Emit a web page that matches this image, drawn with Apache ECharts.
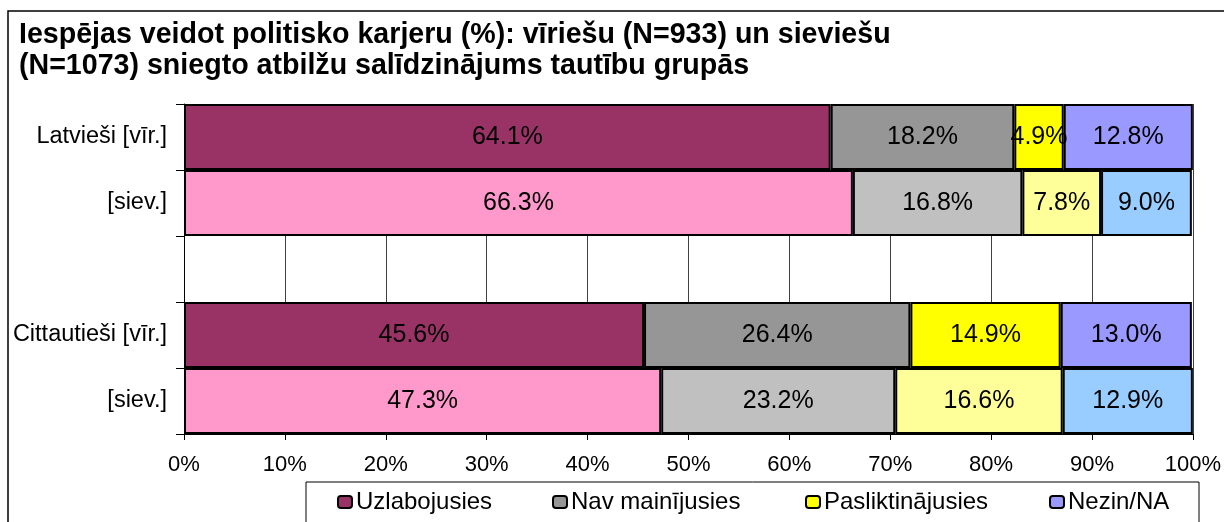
<!DOCTYPE html>
<html>
<head>
<meta charset="utf-8">
<script src="https://cdn.jsdelivr.net/npm/echarts@6/dist/echarts.min.js"></script>
<style>
  html, body { margin: 0; padding: 0; background: #fff; }
  #chart { width: 1224px; height: 522px; }
</style>
</head>
<body>
<div id="chart"></div>
<script>
// categories (top to bottom), the empty slot is the gap between the two groups
var categories = ['Latvieši [vīr.]', '[siev.]', '', 'Cittautieši [vīr.]', '[siev.]'];
var seriesNames = ['Uzlabojusies', 'Nav mainījusies', 'Pasliktinājusies', 'Nezin/NA'];

// values in %
var improved  = [64.1, 66.3, '-', 45.6, 47.3];
var unchanged = [18.2, 16.8, '-', 26.4, 23.2];
var worse     = [4.9, 7.8, '-', 14.9, 16.6];
var unknown   = [12.8, 9.0, '-', 13.0, 12.9];

var xTicks = [0, 10, 20, 30, 40, 50, 60, 70, 80, 90, 100];

// men rows use the dark colours, women rows the light ones
var menColors   = ['#993366', '#969696', '#FFFF00', '#9999FF'];
var womenColors = ['#FF99CC', '#C0C0C0', '#FFFF99', '#99CCFF'];
var womenRows = [1, 4];

var font = 'Arial, "Liberation Sans", sans-serif';

function makeSeries(idx, values) {
    var data = values.map(function (v, i) {
        if (womenRows.indexOf(i) >= 0) {
            return { value: v, itemStyle: { color: womenColors[idx] } };
        }
        return v;
    });
    return {
        name: seriesNames[idx],
        type: 'bar',
        stack: 'total',
        barCategoryGap: 0,
        data: data,
        itemStyle: { color: menColors[idx], borderColor: '#000', borderWidth: 2 },
        label: {
            show: true,
            position: 'inside',
            color: '#000',
            fontFamily: font,
            fontSize: 25,
            formatter: function (p) { return p.value.toFixed(1) + '%'; }
        },
        emphasis: { disabled: true }
    };
}

// one legend per entry so each sits where it does in the picture
var legendLefts = [337, 552, 805, 1049];
var legends = seriesNames.map(function (name, i) {
    return {
        data: [name],
        left: legendLefts[i],
        top: 490,
        itemWidth: 14,
        itemHeight: 12,
        itemGap: 0,
        padding: 0,
        textStyle: { fontFamily: font, fontSize: 24, color: '#000', padding: [0, 0, 0, -1] },
        selectedMode: false
    };
});

var chart = echarts.init(document.getElementById('chart'));
chart.setOption({
    animation: false,
    backgroundColor: '#fff',
    title: {
        text: 'Iespējas veidot politisko karjeru (%): vīriešu (N=933) un sieviešu\n(N=1073) sniegto atbilžu salīdzinājums tautību grupās',
        left: 19,
        top: 20,
        padding: 0,
        textStyle: { fontFamily: font, fontSize: 28.6, fontWeight: 'bold', color: '#000', lineHeight: 31 }
    },
    graphic: [
        { type: 'rect', shape: { x: 8, y: 11, width: 1300, height: 600 }, style: { fill: null, stroke: '#000', lineWidth: 1.5 }, z: -1 },
        { type: 'rect', shape: { x: 306, y: 482, width: 893, height: 100 }, style: { fill: '#fff', stroke: '#000', lineWidth: 1 }, z: -1 }
    ],
    legend: legends,
    grid: { left: 184, right: 27, top: 104, bottom: 88 },
    xAxis: {
        type: 'value',
        min: xTicks[0],
        max: xTicks[xTicks.length - 1],
        interval: 10,
        axisLine: { show: true, lineStyle: { color: '#000' } },
        axisTick: { show: true, length: 6, lineStyle: { color: '#000' } },
        axisLabel: { fontFamily: font, fontSize: 22, color: '#000', margin: 20, formatter: '{value}%' },
        splitLine: { show: true, lineStyle: { color: '#404040', width: 1 } }
    },
    yAxis: {
        type: 'category',
        inverse: true,
        data: categories,
        axisLine: { show: true, lineStyle: { color: '#000', width: 1 } },
        axisTick: { show: true, length: 8, lineStyle: { color: '#000' } },
        axisLabel: { fontFamily: font, fontSize: 23.5, color: '#000', margin: 17 }
    },
    series: [
        makeSeries(0, improved),
        makeSeries(1, unchanged),
        makeSeries(2, worse),
        makeSeries(3, unknown)
    ]
});
</script>
</body>
</html>
